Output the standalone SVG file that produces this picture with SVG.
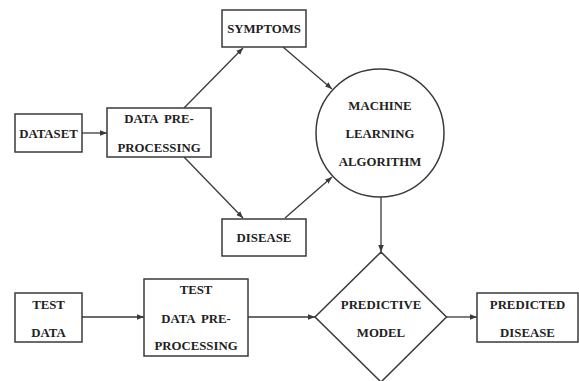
<svg xmlns="http://www.w3.org/2000/svg" width="579" height="381" viewBox="0 0 579 381">
<style>
.box{fill:#fff;stroke:#3a3a3a;stroke-width:1.5}
.t{font-family:"Liberation Serif","Times New Roman",serif;font-weight:bold;font-size:12.8px;fill:#222;text-anchor:middle;word-spacing:3px}
.c{stroke:#3a3a3a;stroke-width:1.3;fill:none;marker-end:url(#ah)}
</style>
<defs>
<marker id="ah" viewBox="0 0 10 10" refX="10" refY="5" markerWidth="7" markerHeight="7" markerUnits="userSpaceOnUse" orient="auto">
<path d="M0,1 L10,5 L0,9 z" fill="#3a3a3a"/>
</marker>
</defs>
<rect width="579" height="381" fill="#fff"/>
<g id="connectors">
<line class="c" x1="82" y1="133" x2="107" y2="133"/>
<line class="c" x1="184" y1="108" x2="243" y2="48"/>
<line class="c" x1="184" y1="157" x2="243" y2="218"/>
<line class="c" x1="283" y1="47" x2="332" y2="89"/>
<line class="c" x1="285" y1="218" x2="332" y2="177"/>
<line class="c" x1="381" y1="197" x2="381" y2="252"/>
<line class="c" x1="82" y1="317" x2="144" y2="317"/>
<line class="c" x1="248" y1="317" x2="315" y2="317"/>
<line class="c" x1="446" y1="317" x2="477" y2="317"/>
</g>
<g id="dataset">
<rect class="box" x="15" y="114" width="67" height="38"/>
<text class="t" x="48.5" y="137.5">DATASET</text>
</g>
<g id="preprocessing">
<rect class="box" x="107" y="108" width="104" height="49"/>
<text class="t" x="159" y="123">DATA PRE-</text>
<text class="t" x="159" y="151.5">PROCESSING</text>
</g>
<g id="symptoms">
<rect class="box" x="222" y="10" width="84" height="37"/>
<text class="t" x="264" y="33">SYMPTOMS</text>
</g>
<g id="disease">
<rect class="box" x="222" y="219" width="84" height="37"/>
<text class="t" x="264" y="241.5">DISEASE</text>
</g>
<g id="ml">
<circle class="box" cx="380" cy="133" r="64"/>
<text class="t" x="380" y="109.5">MACHINE</text>
<text class="t" x="380" y="137.5">LEARNING</text>
<text class="t" x="380" y="166">ALGORITHM</text>
</g>
<g id="testdata">
<rect class="box" x="15" y="293" width="67" height="49"/>
<text class="t" x="48.5" y="308.5">TEST</text>
<text class="t" x="48.5" y="337">DATA</text>
</g>
<g id="testpre">
<rect class="box" x="144" y="279" width="104" height="77"/>
<text class="t" x="196" y="293.5">TEST</text>
<text class="t" x="196" y="322.5">DATA PRE-</text>
<text class="t" x="196" y="349.5">PROCESSING</text>
</g>
<g id="predictive">
<polygon class="box" points="381,252 446.5,317 381,382 315,317"/>
<text class="t" x="381" y="308.5">PREDICTIVE</text>
<text class="t" x="381" y="337">MODEL</text>
</g>
<g id="predicted">
<rect class="box" x="477" y="293" width="101" height="49"/>
<text class="t" x="527.5" y="308.5">PREDICTED</text>
<text class="t" x="527.5" y="337">DISEASE</text>
</g>
</svg>
